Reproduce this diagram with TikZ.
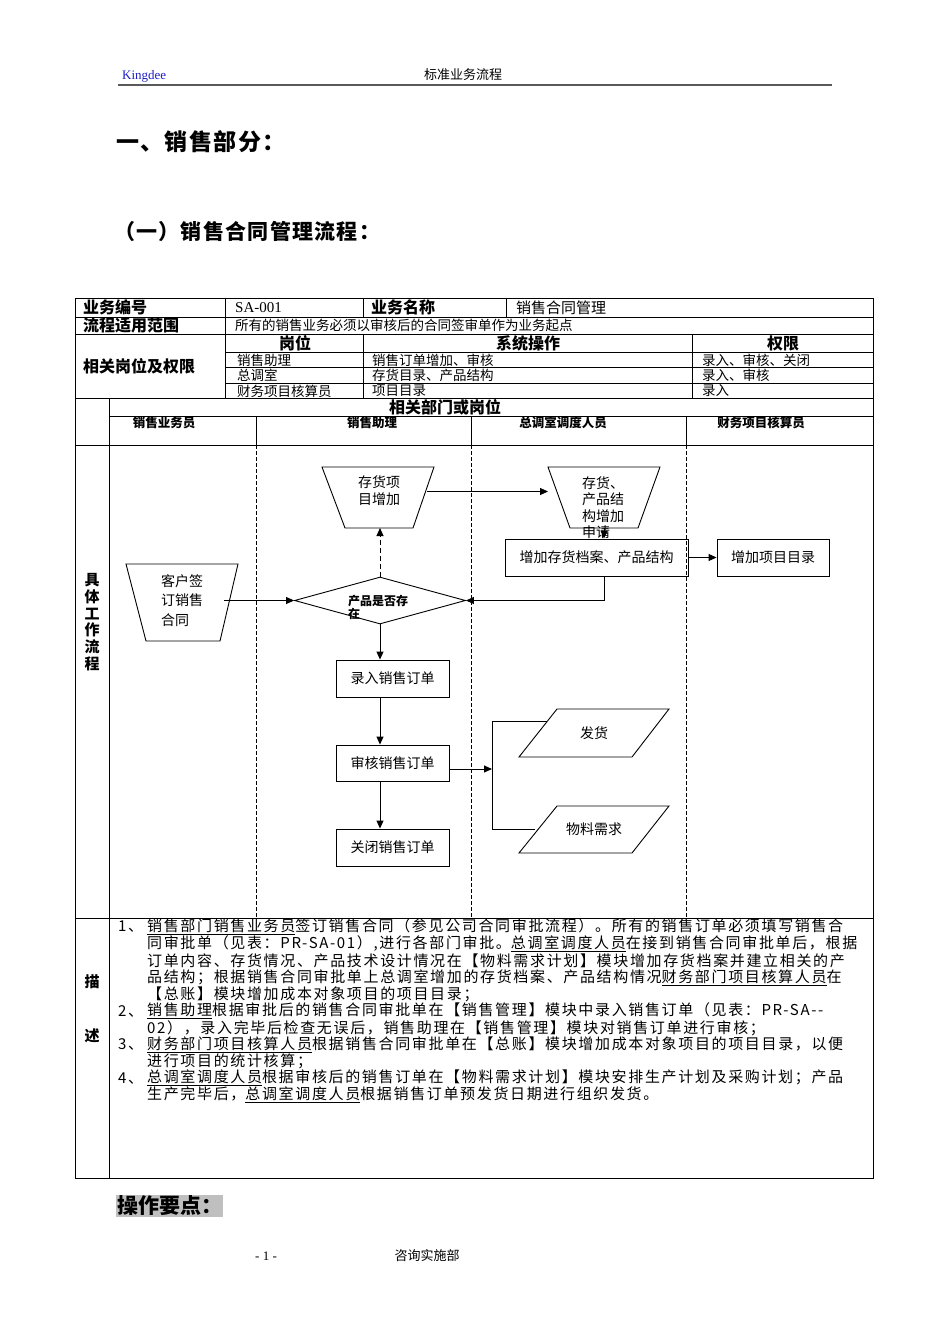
\documentclass[tikz,border=0pt]{standalone}
\usepackage{fontspec}
\setmainfont{Liberation Serif}
\newfontfamily\cjk{Noto Sans CJK SC}
\newfontfamily\cjkd[LetterSpace=11]{Noto Sans CJK SC}
\newfontfamily\cjkt[LetterSpace=6]{Noto Sans CJK SC}
\usetikzlibrary{arrows.meta,shapes.geometric,calc}
\definecolor{kblue}{RGB}{30,30,200}
\begin{document}
\begin{tikzpicture}[x=1pt,y=-1pt,
  tl/.style={line width=0.8pt},
  lane/.style={line width=1pt, dash pattern=on 4pt off 2pt},
  txt/.style={inner sep=0pt, font=\cjk\fontsize{14}{16}\selectfont},
  hd/.style={inner sep=0pt, font=\cjk\bfseries\fontsize{16}{18}\selectfont},
  sm/.style={inner sep=0pt, font=\cjk\fontsize{13.5}{15}\selectfont},
  ln/.style={inner sep=0pt, font=\cjk\bfseries\fontsize{12.5}{14}\selectfont},
  ds/.style={inner sep=0pt, anchor=west, font=\cjkd\fontsize{15}{17}\selectfont},
  box/.style={draw, line width=0.9pt, inner sep=0pt, font=\cjk\fontsize{14}{16}\selectfont},
  ghost/.style={inner sep=0pt, outer sep=0pt, draw=none},
  shp/.style={draw, line width=0.9pt},
  arr/.style={-{Triangle[length=8pt,width=7pt]}, line width=0.9pt},
  ]
\useasboundingbox[fill=white] (0,0) rectangle (950,1344);

% header
\node[inner sep=0pt, anchor=west, text=kblue, font=\fontsize{13}{15}\selectfont] (kd) at (122,76) {Kingdee};
\node[txt, font=\cjk\fontsize{13}{15}\selectfont] (hdt) at (463,75) {标准业务流程};
\coordinate (hl1) at (118,85);
\coordinate (hl2) at (832,85);
\draw[line width=2pt, black!65] (hl1) -- (hl2);

% titles
\node[inner sep=0pt, anchor=west, font=\cjkt\bfseries\fontsize{23}{25}\selectfont] (t1) at (116,142) {一、销售部分：};
\node[inner sep=0pt, anchor=west, font=\cjkt\bfseries\fontsize{21}{23}\selectfont] (t2) at (114,231) {（一）销售合同管理流程：};

% table frame
\draw[tl] (75,298) rectangle (873,1178);
\draw[tl] (75,317) -- (873,317);
\draw[tl] (75,334) -- (873,334);
\draw[tl] (225,352) -- (873,352);
\draw[tl] (225,367) -- (873,367);
\draw[tl] (225,383) -- (873,383);
\draw[tl] (75,398) -- (873,398);
\draw[tl] (109,416) -- (873,416);
\draw[tl] (75,445) -- (873,445);
\draw[tl] (75,918) -- (873,918);
\draw[tl] (225,298) -- (225,398);
\draw[tl] (363,298) -- (363,317);
\draw[tl] (363,334) -- (363,398);
\draw[tl] (506,298) -- (506,317);
\draw[tl] (692,334) -- (692,398);
\draw[tl] (109,398) -- (109,1178);
\foreach \x in {256,471,686}{
  \draw[tl] (\x,416) -- (\x,445);
  \draw[lane] (\x,445) -- (\x,918);
}

% table texts
\node[hd, anchor=west] (r1a) at (83,307.5) {业务编号};
\node[inner sep=0pt, anchor=west, font=\fontsize{15}{17}\selectfont] (r1b) at (235,307.5) {SA-001};
\node[hd, anchor=west] (r1c) at (371,307.5) {业务名称};
\node[txt, anchor=west, font=\cjk\fontsize{15}{17}\selectfont] (r1d) at (516,307.5) {销售合同管理};
\node[hd, anchor=west] (r2a) at (83,325.5) {流程适用范围};
\node[sm, anchor=west] (r2b) at (235,325.5) {所有的销售业务必须以审核后的合同签审单作为业务起点};
\node[hd, anchor=west] (r3a) at (83,366) {相关岗位及权限};
\node[hd] (h1) at (295,343) {岗位};
\node[hd] (h2) at (528,343) {系统操作};
\node[hd] (h3) at (783,343) {权限};
\node[sm, anchor=west] (p1) at (237,360.5) {销售助理};
\node[sm, anchor=west] (o1) at (372,360.5) {销售订单增加、审核};
\node[sm, anchor=west] (q1) at (702,360.5) {录入、审核、关闭};
\node[sm, anchor=west] (p2) at (237,375.5) {总调室};
\node[sm, anchor=west] (o2) at (372,375.5) {存货目录、产品结构};
\node[sm, anchor=west] (q2) at (702,375.5) {录入、审核};
\node[sm, anchor=west] (p3) at (237,391) {财务项目核算员};
\node[sm, anchor=west] (o3) at (372,391) {项目目录};
\node[sm, anchor=west] (q3) at (702,391) {录入};

% lane headers
\node[hd] (lh) at (445,407) {相关部门或岗位};
\node[ln] (l1) at (164,423) {销售业务员};
\node[ln] (l2) at (372,423) {销售助理};
\node[ln] (l3) at (563,423) {总调室调度人员};
\node[ln] (l4) at (761,423) {财务项目核算员};

% left column labels
\node[inner sep=0pt, align=center, font=\cjk\bfseries\fontsize{15}{16.7}\selectfont] (lc) at (92,622) {具\\体\\工\\作\\流\\程};
\node[inner sep=0pt, font=\cjk\bfseries\fontsize{15}{17}\selectfont] (ms1) at (92,982) {描};
\node[inner sep=0pt, font=\cjk\bfseries\fontsize{15}{17}\selectfont] (ms2) at (92,1036) {述};

% ---- flow shapes ----
% customer contract (trapezoid)
\node[ghost, minimum width=112pt, minimum height=77pt] (kh) at (182,602.5) {};
\draw[shp] (kh.north west) -- (kh.north east) -- ([xshift=-18pt]kh.south east) -- ([xshift=20pt]kh.south west) -- cycle;
\node[txt, align=left, font=\cjk\fontsize{14}{19.5}\selectfont] (khT) at (182,600.5) {客户签\\订销售\\合同};

% stock item add
\node[ghost, minimum width=112pt, minimum height=61pt] (ch) at (378,497.5) {};
\draw[shp] (ch.north west) -- (ch.north east) -- ([xshift=-21pt]ch.south east) -- ([xshift=23pt]ch.south west) -- cycle;
\node[txt, align=center, font=\cjk\fontsize{14}{17}\selectfont] (chT) at (379,490.5) {存货项\\目增加};

% request
\node[ghost, minimum width=112pt, minimum height=61pt] (sq) at (604,497.5) {};
\draw[shp] (sq.north west) -- (sq.north east) -- ([xshift=-22pt]sq.south east) -- ([xshift=22pt]sq.south west) -- cycle;
\node[txt, align=left, anchor=west, font=\cjk\fontsize{14}{16.5}\selectfont] (sqT) at (582,507.5) {存货、\\产品结\\构增加\\申请};

% diamond
\node[diamond, draw, line width=0.9pt, inner sep=0pt, minimum width=171pt, minimum height=47pt] (dia) at (380,600.5) {};
\node[inner sep=0pt, anchor=north west, align=left, font=\cjk\bfseries\fontsize{12}{13}\selectfont] (diaT) at (348,594.5) {产品是否存\\在};

% boxes
\node[box, minimum width=183pt, minimum height=37pt] (b1) at (596.5,557.5) {增加存货档案、产品结构};
\node[box, minimum width=112pt, minimum height=37pt] (b2) at (773,557.5) {增加项目目录};
\node[box, minimum width=113pt, minimum height=37pt] (lr) at (392.5,678.5) {录入销售订单};
\node[box, minimum width=113pt, minimum height=36pt] (sh) at (392.5,763) {审核销售订单};
\node[box, minimum width=113pt, minimum height=37pt] (gb) at (392.5,847.5) {关闭销售订单};

% parallelograms
\node[ghost, minimum width=150pt, minimum height=48pt] (fh) at (594,733) {};
\draw[shp] ([xshift=38pt]fh.north west) -- (fh.north east) -- ([xshift=-37pt]fh.south east) -- (fh.south west) -- cycle;
\node[txt] (fhT) at (594,733) {发货};
\node[ghost, minimum width=150pt, minimum height=47pt] (wl) at (594,829.5) {};
\draw[shp] ([xshift=38pt]wl.north west) -- (wl.north east) -- ([xshift=-37pt]wl.south east) -- (wl.south west) -- cycle;
\node[txt] (wlT) at (594,829.5) {物料需求};

% ---- connectors ----
\draw[arr] ([shift={(-14pt,2pt)}]kh.east) -- (dia.west);
\draw[arr, dash pattern=on 5pt off 3pt] (dia.north) -- (dia.north |- ch.south);
\draw[arr] ([shift={(-7pt,6pt)}]ch.east) -- ([yshift=6pt]ch.east -| sq.west);
\draw[arr] (sq.south) -- (sq.south |- b1.north);
\draw[arr] (b1.east) -- (b2.west);
\draw[arr] (sq.south |- b1.south) -- (sq.south |- dia.east) -- (dia.east);
\draw[arr] (dia.south) -- (dia.south |- lr.north);
\draw[arr] (dia.south |- lr.south) -- (dia.south |- sh.north);
\draw[arr] (dia.south |- sh.south) -- (dia.south |- gb.north);
\coordinate (bt) at (492,721);
\coordinate (bb) at (492,829);
\coordinate (fhL) at (547,721);
\coordinate (wlL) at (535,829);
\draw[arr] ([yshift=-6pt]sh.east) -- ([yshift=-6pt]sh.east -| bt);
\draw[line width=0.9pt] (fhL) -- (bt) -- (bb) -- (wlL);

% ---- description ----
\node[ds] (n1) at (118,927) {1、};
\node[ds] (d1) at (147,927) {\underline{销售部门销售业务员}签订销售合同（参见公司合同审批流程）。所有的销售订单必须填写销售合};
\node[ds] (d2) at (147,943.8) {同审批单（见表：PR-SA-01）,进行各部门审批。\underline{总调室调度人员}在接到销售合同审批单后，根据};
\node[ds] (d3) at (147,960.6) {订单内容、存货情况、产品技术设计情况在【物料需求计划】模块增加存货档案并建立相关的产};
\node[ds] (d4) at (147,977.4) {品结构；根据销售合同审批单上总调室增加的存货档案、产品结构情况\underline{财务部门项目核算人员}在};
\node[ds] (d5) at (147,994.2) {【总账】模块增加成本对象项目的项目目录；};
\node[ds] (n2) at (118,1011) {2、};
\node[ds] (d6) at (147,1011) {\underline{销售助理}根据审批后的销售合同审批单在【销售管理】模块中录入销售订单（见表：PR-SA--};
\node[ds] (d7) at (147,1027.8) {02），录入完毕后检查无误后，销售助理在【销售管理】模块对销售订单进行审核；};
\node[ds] (n3) at (118,1044.6) {3、};
\node[ds] (d8) at (147,1044.6) {\underline{财务部门项目核算人员}根据销售合同审批单在【总账】模块增加成本对象项目的项目目录，以便};
\node[ds] (d9) at (147,1061.4) {进行项目的统计核算；};
\node[ds] (n4) at (118,1078.2) {4、};
\node[ds] (d10) at (147,1078.2) {\underline{总调室调度人员}根据审核后的销售订单在【物料需求计划】模块安排生产计划及采购计划；产品};
\node[ds] (d11) at (147,1095) {生产完毕后，\underline{总调室调度人员}根据销售订单预发货日期进行组织发货。};

% bottom
\node[inner sep=1pt, anchor=west, fill=black!25, font=\cjk\bfseries\fontsize{21}{23}\selectfont] (kp) at (116,1206) {操作要点：\hspace{4pt}};
\node[inner sep=0pt, font=\fontsize{13}{15}\selectfont] (pg) at (266,1256) {- 1 -};
\node[txt, font=\cjk\fontsize{13}{15}\selectfont] (dept) at (427,1256) {咨询实施部};
\end{tikzpicture}
\end{document}
